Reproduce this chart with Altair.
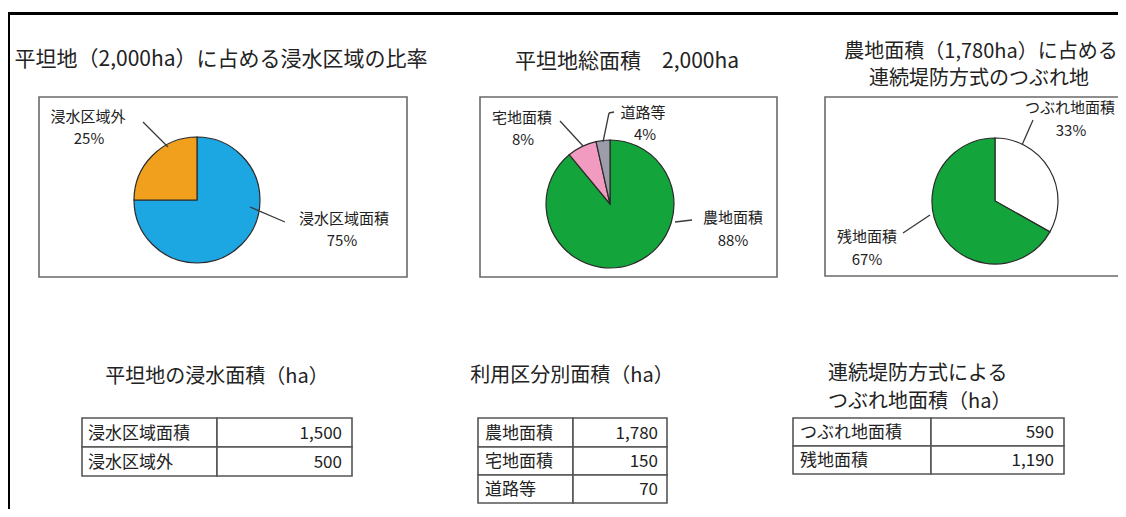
import altair as alt
import pandas as pd

# ---------------- data ----------------
pie1_title = "平坦地（2,000ha）に占める浸水区域の比率"
pie1_labels = ["浸水区域面積", "浸水区域外"]
pie1_values = [1500, 500]
pie1_pct = [75, 25]

pie2_title = "平坦地総面積　2,000ha"
pie2_labels = ["農地面積", "宅地面積", "道路等"]
pie2_values = [1780, 150, 70]
pie2_pct = [88, 8, 4]

pie3_title = ["農地面積（1,780ha）に占める", "連続堤防方式のつぶれ地"]
pie3_labels = ["つぶれ地面積", "残地面積"]
pie3_values = [590, 1190]
pie3_pct = [33, 67]

table1_title = ["平坦地の浸水面積（ha）"]
table1_labels = ["浸水区域面積", "浸水区域外"]
table1_values = [1500, 500]

table2_title = ["利用区分別面積（ha）"]
table2_labels = ["農地面積", "宅地面積", "道路等"]
table2_values = [1780, 150, 70]

table3_title = ["連続堤防方式による", "つぶれ地面積（ha）"]
table3_labels = ["つぶれ地面積", "残地面積"]
table3_values = [590, 1190]

# ---------------- styles ----------------
pie1_colors = ["#1CA6E2", "#F0A01C"]
pie2_colors = ["#13A53C", "#F29BC1", "#9C9CAA"]
pie3_colors = ["#FFFFFF", "#13A53C"]
FONT = "Noto Sans CJK JP"
TXT = "#222222"

# ---------------- layout (reference pixel coordinates) ----------------
W, H = 1110, 501
X = alt.Scale(domain=[8, 8 + W], range=[0, W])
Y = alt.Scale(domain=[8, 8 + H], range=[0, H])

pies = [
    dict(labels=pie1_labels, values=pie1_values, pct=pie1_pct, colors=pie1_colors,
         cx=197, cy=200, r=63, box=(39, 97, 407, 277),
         title=[pie1_title], title_pos=[(221, 60)],
         label_pos=[(344, 219, 342, 241), (88, 117, 89, 139)],
         leaders=[(250, 207, 285, 222), (143, 122, 168, 147)]),
    dict(labels=pie2_labels, values=pie2_values, pct=pie2_pct, colors=pie2_colors,
         cx=610, cy=204, r=64, box=(480, 97, 777, 277),
         title=[pie2_title], title_pos=[(627, 62)],
         label_pos=[(733, 218, 733, 241), (522, 118, 523, 140), (643, 113, 645, 135)],
         leaders=[(675, 222, 692, 220), (560, 121, 583, 146), (614, 112, 609, 113),
                  (609, 113, 603, 142)]),
    dict(labels=pie3_labels, values=pie3_values, pct=pie3_pct, colors=pie3_colors,
         cx=995, cy=201, r=63, box=(825, 97, 1140, 276),
         title=pie3_title, title_pos=[(981, 52), (979, 79)],
         label_pos=[(1070, 108, 1071, 131), (867, 237, 867, 260)],
         leaders=[(1033, 120, 1022, 145), (903, 233, 930, 215)]),
]

tables = [
    dict(title=table1_title, title_pos=[(217, 377)], title_align="center",
         labels=table1_labels, values=table1_values,
         ys=[418, 447, 476], xs=[82, 217, 352], lx=88, vx=342),
    dict(title=table2_title, title_pos=[(572, 376)], title_align="center",
         labels=table2_labels, values=table2_values,
         ys=[418, 447, 475, 503], xs=[478, 573, 667], lx=485, vx=658),
    dict(title=table3_title, title_pos=[(828, 374), (828, 402)], title_align="left",
         labels=table3_labels, values=table3_values,
         ys=[418, 446, 474], xs=[793, 931, 1064], lx=800, vx=1054),
]


def xy(xf="x", yf="y"):
    return dict(x=alt.X(f"{xf}:Q", scale=X, axis=None),
                y=alt.Y(f"{yf}:Q", scale=Y, axis=None))


layers = []

# boxes around pies
box_df = pd.DataFrame([dict(x=p["box"][0], y=p["box"][1], x2=p["box"][2], y2=p["box"][3])
                       for p in pies])
layers.append(alt.Chart(box_df).mark_rect(fill="white", stroke="#6a6a6a", strokeWidth=1.6).encode(
    **xy(), x2="x2:Q", y2="y2:Q"))

# pies
for p in pies:
    df = pd.DataFrame({"label": p["labels"], "value": p["values"], "color": p["colors"],
                       "idx": list(range(len(p["labels"]))),
                       "cx": [p["cx"]] * len(p["labels"]), "cy": [p["cy"]] * len(p["labels"])})
    layers.append(alt.Chart(df).mark_arc(outerRadius=p["r"], stroke="#2b2b2b", strokeWidth=1.2).encode(
        theta=alt.Theta("value:Q", stack=True),
        order=alt.Order("idx:Q"),
        color=alt.Color("color:N", scale=None),
        **xy("cx", "cy"),
    ))

# leader lines
lead_rows = []
for p in pies:
    for (a, b, c, d) in p["leaders"]:
        lead_rows.append(dict(x=a, y=b, x2=c, y2=d))
layers.append(alt.Chart(pd.DataFrame(lead_rows)).mark_rule(color="#3a3a3a", strokeWidth=1.3).encode(
    **xy(), x2="x2:Q", y2="y2:Q"))

# texts
texts = []
for i, p in enumerate(pies):
    for t, (tx, ty) in zip(p["title"], p["title_pos"]):
        texts.append(dict(text=t, x=tx, y=ty, size=21 if len(p["title"]) == 1 else 20, align="center"))
    for lab, pc, (lx, ly, px, py) in zip(p["labels"], p["pct"], p["label_pos"]):
        texts.append(dict(text=lab, x=lx, y=ly, size=15, align="center"))
        texts.append(dict(text=f"{pc}%", x=px, y=py, size=15, align="center"))

# tables
cell_rows = []
for t in tables:
    for tt, (tx, ty) in zip(t["title"], t["title_pos"]):
        texts.append(dict(text=tt, x=tx, y=ty, size=20, align=t["title_align"]))
    for k, (lab, val) in enumerate(zip(t["labels"], t["values"])):
        y0, y1 = t["ys"][k], t["ys"][k + 1]
        cell_rows.append(dict(x=t["xs"][0], x2=t["xs"][1], y=y0, y2=y1))
        cell_rows.append(dict(x=t["xs"][1], x2=t["xs"][2], y=y0, y2=y1))
        texts.append(dict(text=lab, x=t["lx"], y=(y0 + y1) / 2 + 1, size=17, align="left"))
        texts.append(dict(text=f"{val:,}", x=t["vx"], y=(y0 + y1) / 2 + 1, size=17, align="right"))

layers.append(alt.Chart(pd.DataFrame(cell_rows)).mark_rect(fill="white", stroke="#555555", strokeWidth=1.6).encode(
    **xy(), x2="x2:Q", y2="y2:Q"))

tdf = pd.DataFrame(texts)
for (size, align), g in tdf.groupby(["size", "align"]):
    layers.append(alt.Chart(g.reset_index(drop=True)).mark_text(
        font=FONT, fontSize=float(size), align=align, baseline="middle", color=TXT).encode(
        **xy(), text="text:N"))

# outer frame (left and top edges)
frame_df = pd.DataFrame([dict(x=8.5, y=12, x2=8.5, y2=530), dict(x=7, y=13.5, x2=1140, y2=13.5)])
layers.append(alt.Chart(frame_df).mark_rule(color="#000000", strokeWidth=3).encode(
    **xy(), x2="x2:Q", y2="y2:Q"))

chart = alt.layer(*layers).resolve_scale(theta="independent").properties(
    width=W, height=H, padding=0,
    autosize=alt.AutoSizeParams(type="none"),
    background="white",
).configure_view(strokeWidth=0)

chart.save("out.html", embed_options={"renderer": "svg", "actions": False})
